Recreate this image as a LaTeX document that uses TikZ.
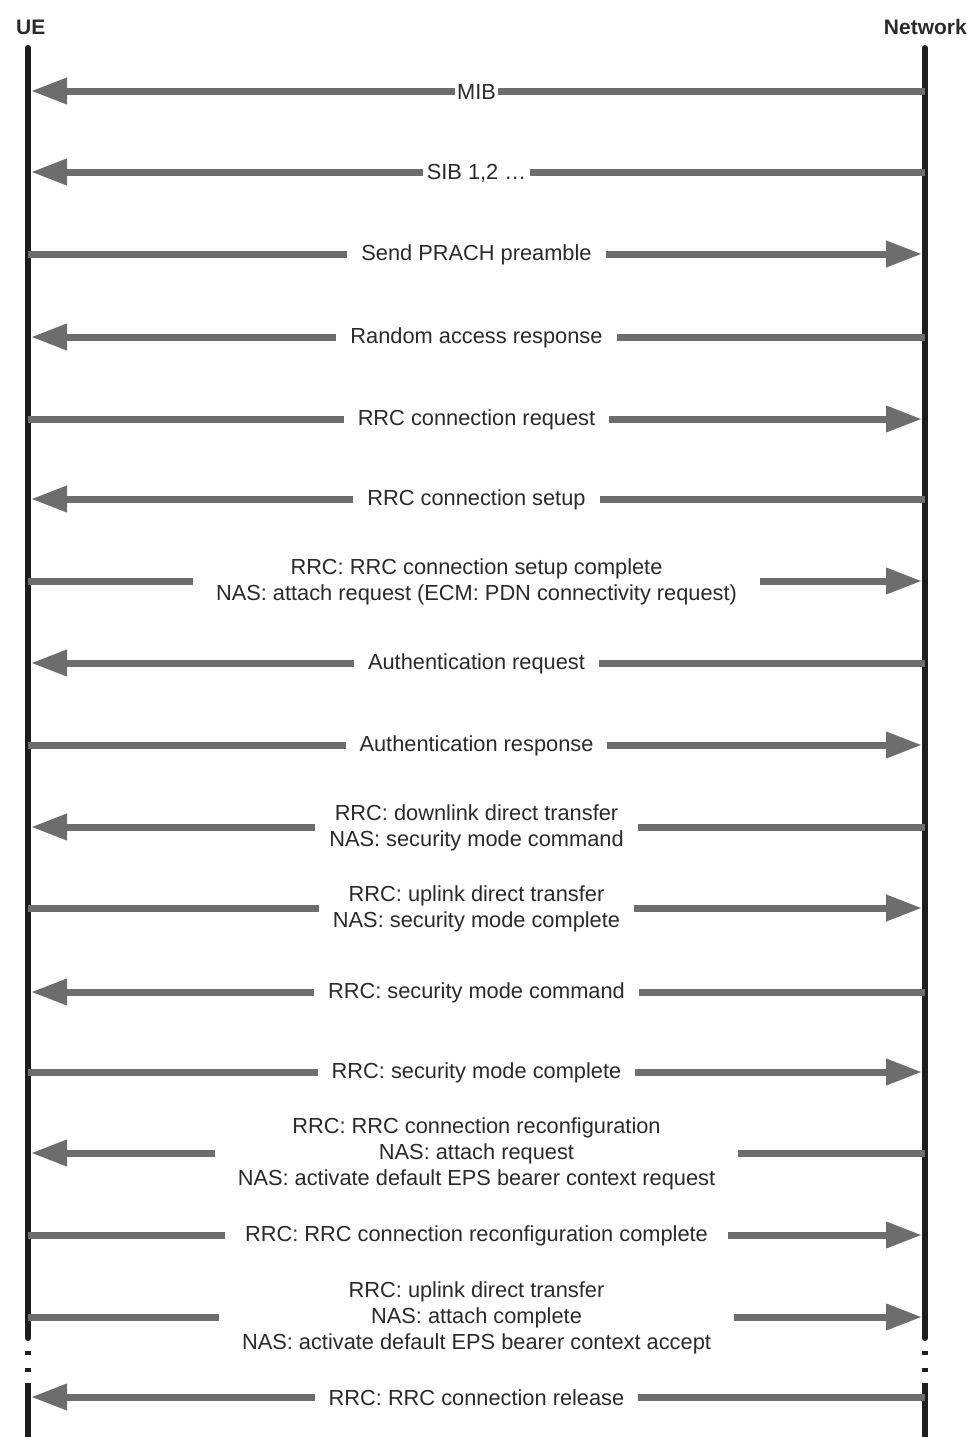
\documentclass[tikz,border=0pt]{standalone}
\usepackage{fontspec}
\setmainfont{Liberation Sans}
\usetikzlibrary{arrows.meta}
\definecolor{lifeC}{HTML}{1E1E1E}
\definecolor{msgC}{HTML}{6D6D6D}
\definecolor{txtC}{HTML}{2A2A2A}
\tikzset{
  life/.style={draw=lifeC, line width=6pt},
  msg/.style={draw=msgC, line width=7pt, -{Triangle[length=36pt,width=25pt]}, shorten >=3pt},
  lbl/.style={midway, yshift=-1pt, fill=white, text=txtC, align=center, inner xsep=14pt, inner ysep=2pt,
    font=\fontsize{21.8}{26}\selectfont},
  tight/.style={inner xsep=2pt},
  wide/.style={inner xsep=23pt},
  head/.style={text=txtC, font=\fontsize{21}{26}\selectfont\bfseries, inner sep=0pt}
}
\begin{document}
\begin{tikzpicture}[x=1pt,y=-1pt]
\useasboundingbox (0,0) rectangle (973,1437);

% entity headers
\node[head, anchor=base west] (ue) at (16,35) {UE};
\node[head, anchor=base east] (nw) at (967,35) {Network};

% lifelines, broken near the bottom
\foreach \x/\n in {28/u, 925/n} {
  \coordinate (\n top) at (\x,48);
  \coordinate (\n brk1) at (\x,1338);
  \coordinate (\n brk2) at (\x,1383);
  \coordinate (\n bot) at (\x,1437);
  \draw[life, line cap=round] (\n top) -- (\n brk1);
  \draw[life, dash pattern=on 0pt off 13pt on 4pt off 13pt on 4pt off 20pt] (\n brk1) -- (\n brk2);
  \draw[life] (\n brk2) -- (\n bot);
}

% message anchor points on both lifelines
\foreach \i/\y in {1/91, 2/172, 3/254, 4/337, 5/419, 6/499, 7/581, 8/663, 9/745,
                   10/827, 11/908, 12/992, 13/1072, 14/1153, 15/1235, 16/1317, 17/1397} {
  \coordinate (u\i) at (28,\y);
  \coordinate (n\i) at (925,\y);
}

% messages
\draw[msg] (n1) -- (u1) node[lbl, tight] {MIB};
\draw[msg] (n2) -- (u2) node[lbl, inner xsep=4pt] {SIB 1,2 …};
\draw[msg] (u3) -- (n3) node[lbl] {Send PRACH preamble};
\draw[msg] (n4) -- (u4) node[lbl] {Random access response};
\draw[msg] (u5) -- (n5) node[lbl] {RRC connection request};
\draw[msg] (n6) -- (u6) node[lbl] {RRC connection setup};
\draw[msg] (u7) -- (n7) node[lbl, wide] {RRC: RRC connection setup complete\\NAS: attach request (ECM: PDN connectivity request)};
\draw[msg] (n8) -- (u8) node[lbl] {Authentication request};
\draw[msg] (u9) -- (n9) node[lbl] {Authentication response};
\draw[msg] (n10) -- (u10) node[lbl] {RRC: downlink direct transfer\\NAS: security mode command};
\draw[msg] (u11) -- (n11) node[lbl] {RRC: uplink direct transfer\\NAS: security mode complete};
\draw[msg] (n12) -- (u12) node[lbl] {RRC: security mode command};
\draw[msg] (u13) -- (n13) node[lbl] {RRC: security mode complete};
\draw[msg] (n14) -- (u14) node[lbl, wide] {RRC: RRC connection reconfiguration\\NAS: attach request\\NAS: activate default EPS bearer context request};
\draw[msg] (u15) -- (n15) node[lbl, inner xsep=20pt] {RRC: RRC connection reconfiguration complete};
\draw[msg] (u16) -- (n16) node[lbl, wide] {RRC: uplink direct transfer\\NAS: attach complete\\NAS: activate default EPS bearer context accept};
\draw[msg] (n17) -- (u17) node[lbl] {RRC: RRC connection release};
\end{tikzpicture}
\end{document}
